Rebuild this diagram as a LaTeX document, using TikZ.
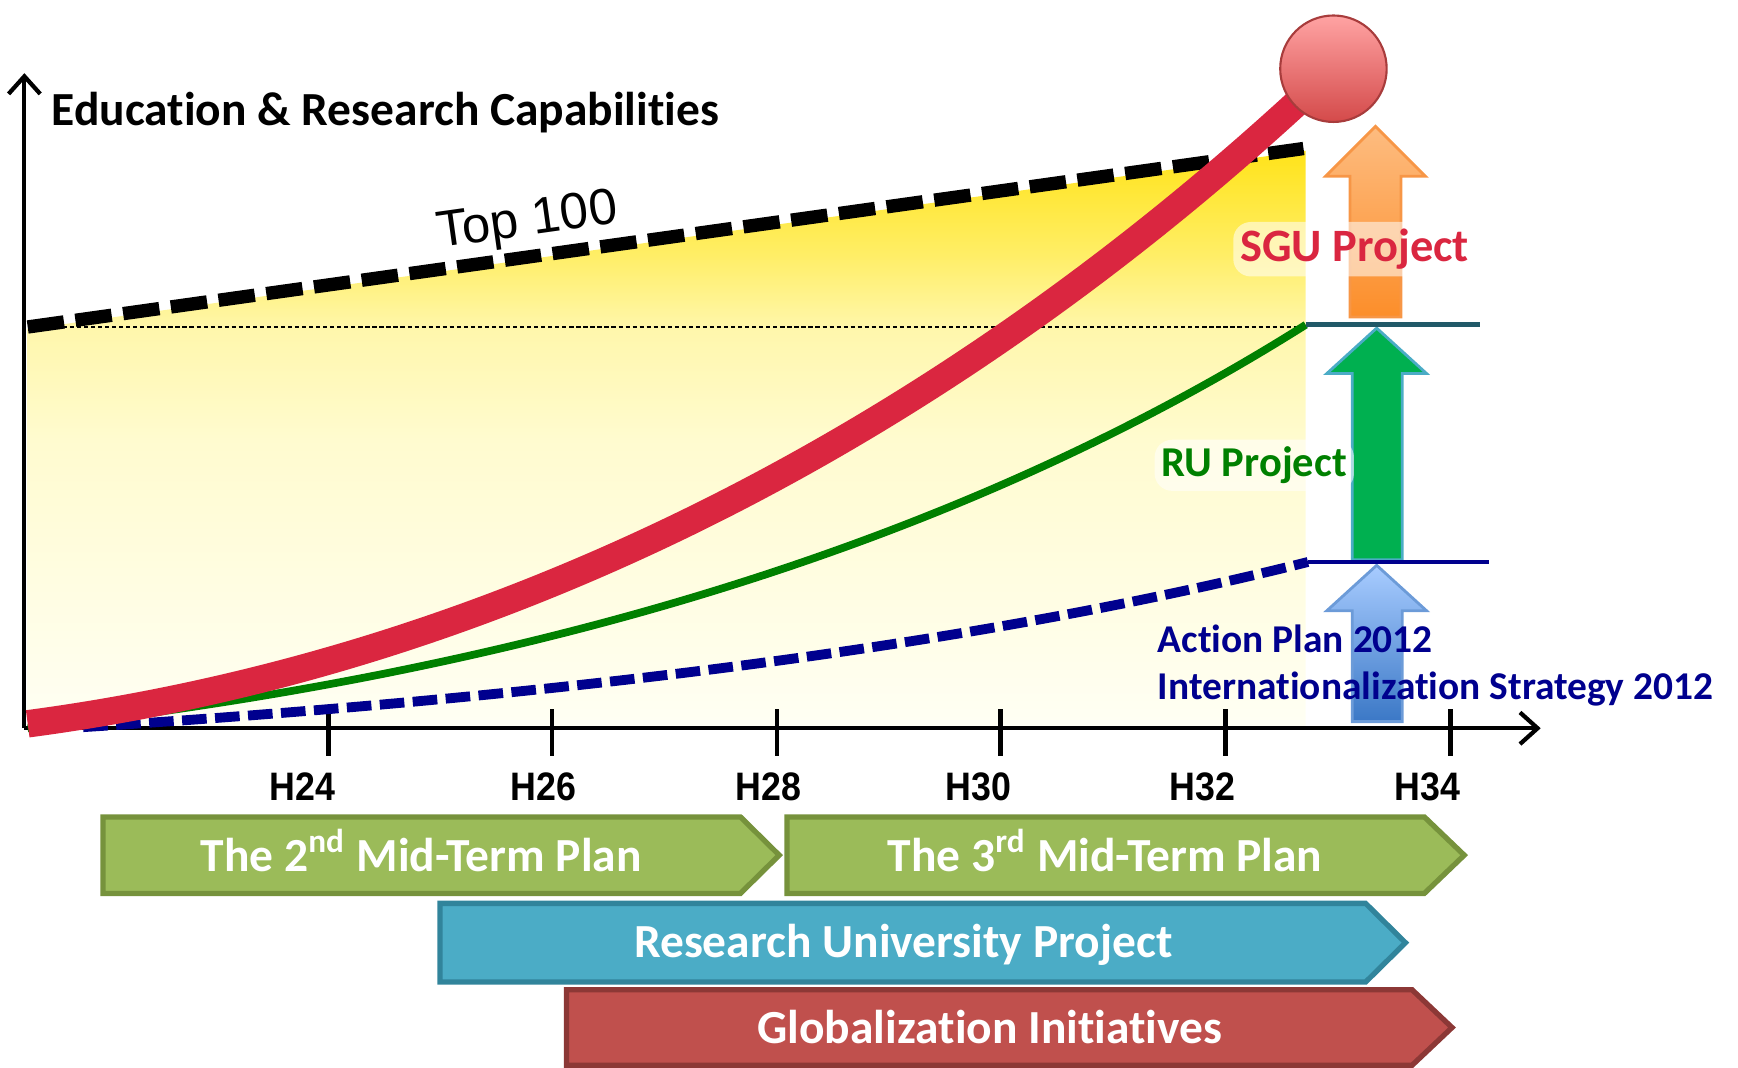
\documentclass[tikz,border=0pt]{standalone}
\usepackage{fontspec}
\setmainfont{Carlito}[Ligatures=NoCommon]
\newfontfamily\tickfont[FakeStretch=0.9]{Liberation Sans}
\newfontfamily\topfont{Liberation Sans}
\usetikzlibrary{arrows.meta}

\definecolor{curvered}{HTML}{DA2640}
\definecolor{rugreen}{HTML}{008000}
\definecolor{apnavy}{HTML}{00008E}
\definecolor{lineteal}{HTML}{215968}
\definecolor{plangreen}{HTML}{9BBB59}
\definecolor{plangreenline}{HTML}{76923C}
\definecolor{rublue}{HTML}{4BACC6}
\definecolor{rublueline}{HTML}{31849B}
\definecolor{globred}{HTML}{C0504D}
\definecolor{globredline}{HTML}{8C3836}
\definecolor{ballhi}{HTML}{FFA3A3}
\definecolor{balllo}{HTML}{D44A4A}
\definecolor{ballrim}{HTML}{A83C3C}
\definecolor{sgutop}{HTML}{FDBC80}
\definecolor{sgubot}{HTML}{FC8E2A}
\definecolor{sguline}{HTML}{F79646}
\definecolor{rufill}{HTML}{00B050}
\definecolor{aptop}{HTML}{A8CCFF}
\definecolor{apbot}{HTML}{3B78C6}
\definecolor{apline}{HTML}{6C9BD8}

% yellow band under the Top 100 line
\pgfdeclareverticalshading{topband}{100bp}{rgb(0bp)=(1,1,0.957); rgb(25bp)=(1,1,0.957);
  rgb(50bp)=(1,0.984,0.812); rgb(59.5bp)=(1,0.969,0.675); rgb(66bp)=(1,0.933,0.4);
  rgb(75bp)=(1,0.89,0.102); rgb(100bp)=(1,0.89,0.102)}

\begin{document}
\begin{tikzpicture}[
	x=0.011084cm, y=-0.011084cm,
	every node/.style={inner sep=0pt},
	axisline/.style={line width=1.2pt, -{Straight Barb[length=5pt,width=9pt]}},
	tickline/.style={line width=1.4pt},
	yearlabel/.style={font=\tickfont\fontsize{11.3}{13}\selectfont\bfseries, anchor=base},
	limit/.style={line width=3.8pt, dash pattern=on 10.4pt off 3.3pt},
	sgucurve/.style={line width=7.8pt, curvered},
	rucurve/.style={line width=2.2pt, rugreen},
	apcurve/.style={line width=2.8pt, apnavy, dash pattern=on 7pt off 2.4pt},
	level/.style={line width=1.4pt},
	blockarrow/.style={line width=0.8pt, line join=miter},
	bar/.style={line width=1.5pt},
	bartext/.style={font=\fontsize{13.5}{16}\selectfont\bfseries, text=white, anchor=base},
	glow/.style={fill=white, fill opacity=0.55, text opacity=1, rounded corners=5pt, inner sep=2pt}
	]
	\useasboundingbox (0,0) rectangle (1568,963);
	
	\coordinate (o) at (22,657);
	\coordinate (ytop) at (22,66);
	\coordinate (xend) at (1390,657);
	\coordinate (ru) at (1178,293);
	\coordinate (ruend) at (1335,293);
	\coordinate (ap) at (1180,507);
	\coordinate (apend) at (1343,507);
	\coordinate (top) at (1203,62);
	
	% target band
	\shade[shading=topband] (25,657) -- (25,297) -- (1178,136) -- (1178,657) -- cycle;
	\draw[line width=0.5pt, dash pattern=on 1.2pt off 0.8pt] (25,295) -- (1175,295);
	
	% axes
	\draw[axisline] (o) -- (ytop);
	\draw[axisline] (o) -- (xend);
	\foreach \t/\l/\n in {296/273/24, 498/490/26, 701/693/28, 903/883/30, 1106/1085/32, 1309/1288/34} {
		\draw[tickline] (\t,640) -- (\t,682);
		\node[yearlabel] (h\n) at (\l,722) {H\n};
	}
	
	% curves
	\draw[apcurve] (75,656) .. controls (450,632) and (850,590) .. (ap);
	\draw[rucurve] (25,657) .. controls (450,610) and (850,500) .. (ru);
	\draw[limit] (25,295) -- (1176,134);
	\draw[sgucurve] (25,653) .. controls (500,590) and (900,350) .. (top);
	\node[circle, minimum size=1.064cm, draw=ballrim, line width=0.6pt,
	top color=ballhi, bottom color=balllo] (ball) at (top) {};
	
	% project arrows
	\shadedraw[blockarrow, top color=sgutop, bottom color=sgubot, draw=sguline]
	(1241,114) -- (1286,159) -- (1264,159) -- (1264,286) -- (1218,286) -- (1218,159) -- (1196,159) -- cycle;
	\draw[blockarrow, fill=rufill, draw=rublue]
	(1242,296) -- (1287,337) -- (1265,337) -- (1265,505) -- (1220,505) -- (1220,337) -- (1197,337) -- cycle;
	\shadedraw[blockarrow, top color=aptop, bottom color=apbot, draw=apline]
	(1242,510) -- (1287,551) -- (1265,551) -- (1265,651) -- (1220,651) -- (1220,551) -- (1197,551) -- cycle;
	\draw[level, lineteal] (ru) -- (ruend);
	\draw[level, apnavy] (ap) -- (apend);
	
	% labels
	\node[font=\fontsize{13.5}{16}\selectfont\bfseries, anchor=base west] (title) at (46,113) {Education \& Research Capabilities};
	\node[font=\topfont\fontsize{14.5}{17}\selectfont, rotate=8] (top100) at (476,201) {Top 100};
	\node[glow, font=\fontsize{13.2}{16}\selectfont\bfseries, text=curvered, anchor=base west] (sgu) at (1112,236) {SGU Project};
	\node[glow, font=\fontsize{12.1}{15}\selectfont\bfseries, text=rugreen, anchor=base west] (rulabel) at (1041,430) {RU Project};
	\node[font=\fontsize{11.2}{13}\selectfont\bfseries, text=apnavy, anchor=base west] (ap1) at (1044,589) {Action Plan 2012};
	\node[font=\fontsize{11.2}{13}\selectfont\bfseries, text=apnavy, anchor=base west] (ap2) at (1044,631) {Internationalization Strategy 2012};
	
	% time line
	\draw[bar, fill=plangreen, draw=plangreenline] (93,737) -- (668,737) -- (703,771.5) -- (668,806) -- (93,806) -- cycle;
	\node[bartext] (plan2) at (380,786) {The 2\textsuperscript{nd} Mid-Term Plan};
	\draw[bar, fill=plangreen, draw=plangreenline] (710,737) -- (1285,737) -- (1321,771.5) -- (1285,806) -- (710,806) -- cycle;
	\node[bartext] (plan3) at (997,786) {The 3\textsuperscript{rd} Mid-Term Plan};
	\draw[bar, fill=rublue, draw=rublueline] (397,815) -- (1232,815) -- (1268,850.5) -- (1232,886) -- (397,886) -- cycle;
	\node[bartext] (rup) at (815,864) {Research University Project};
	\draw[bar, fill=globred, draw=globredline] (511,893) -- (1274,893) -- (1310,927) -- (1274,961) -- (511,961) -- cycle;
	\node[bartext] (glob) at (893,941) {Globalization Initiatives};
	
\end{tikzpicture}
\end{document}
